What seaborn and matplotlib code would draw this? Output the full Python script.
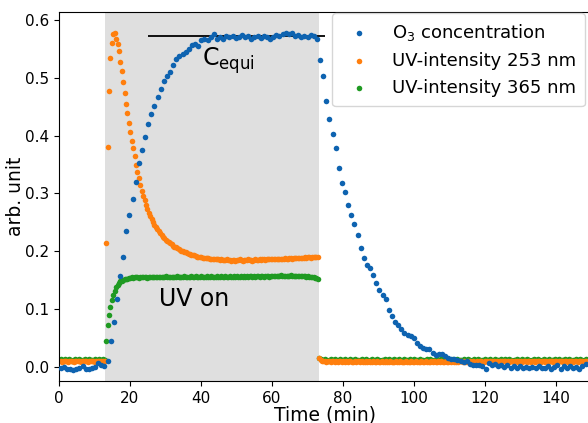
import numpy as np
import seaborn as sns
import matplotlib.pyplot as plt

# O3 concentration, one reading every 0.88 min starting at 0.5 min
o3_start, o3_step = 0.5, 0.88
o3_conc = [
    -0.002, 0.000, -0.003, -0.004, -0.006, -0.004, -0.001, 0.001, -0.004, -0.003,
    -0.002, 0.000, 0.007, 0.004, 0.002,
    0.010, 0.045, 0.078, 0.118, 0.158, 0.190, 0.236, 0.262, 0.290, 0.320,
    0.352, 0.376, 0.397, 0.420, 0.438, 0.452, 0.467, 0.480, 0.494, 0.504,
    0.510, 0.522, 0.533, 0.537, 0.541, 0.544, 0.550, 0.556, 0.558, 0.555,
    0.566, 0.568, 0.566, 0.570, 0.575, 0.568,
    0.571, 0.567, 0.572, 0.570, 0.573, 0.569, 0.571, 0.574, 0.570, 0.572,
    0.568, 0.571, 0.573, 0.569, 0.572, 0.570, 0.567, 0.571, 0.574, 0.572,
    0.576, 0.578, 0.575, 0.577, 0.572, 0.574, 0.570, 0.573, 0.571, 0.574,
    0.572, 0.568,
    0.530, 0.503, 0.460, 0.428, 0.403, 0.378, 0.344, 0.318, 0.302, 0.280,
    0.262, 0.247, 0.228, 0.205, 0.189, 0.177, 0.172, 0.159, 0.145, 0.134,
    0.125, 0.118, 0.099, 0.088, 0.078, 0.073, 0.066, 0.059, 0.056, 0.054,
    0.050, 0.042, 0.036, 0.033, 0.031, 0.031, 0.025, 0.021, 0.022, 0.023,
    0.019, 0.015, 0.014, 0.013, 0.012, 0.010, 0.008, 0.010, 0.006, 0.004,
    0.003, 0.004, 0.001,
    -0.004, 0.007, 0.003, 0.005, 0.002, 0.004, 0.000, 0.003, -0.001, 0.002,
    -0.002, 0.001, -0.001, 0.000, -0.002, 0.000, -0.002, 0.001, -0.001, -0.002,
    0.001, -0.003, 0.000, 0.004, -0.004, 0.002, -0.001, 0.001, -0.002, 0.000,
    -0.003, 0.002, 0.005,
]

# UV lamp intensities, one reading every 0.4 min starting at 0.1 min
uv_start, uv_step = 0.1, 0.4
uv_253 = [
    # lamp off
    0.010, 0.011, 0.009, 0.010, 0.010, 0.011, 0.009, 0.010, 0.011, 0.010,
    0.009, 0.010, 0.010, 0.011, 0.010, 0.009, 0.010, 0.011, 0.010, 0.010,
    0.009, 0.010, 0.011, 0.010, 0.010, 0.009, 0.011, 0.010, 0.010, 0.011,
    0.009, 0.010, 0.011,
    # lamp on
    0.215, 0.380, 0.478, 0.535, 0.561, 0.575, 0.577, 0.568, 0.558, 0.546,
    0.528, 0.512, 0.492, 0.473, 0.455, 0.439, 0.422, 0.406, 0.391, 0.378,
    0.364, 0.350, 0.337,
    0.326, 0.315, 0.305, 0.296, 0.288, 0.280, 0.273, 0.267, 0.261, 0.256,
    0.251, 0.246, 0.242, 0.238, 0.235, 0.231, 0.228, 0.225, 0.223, 0.220,
    0.218, 0.216, 0.214, 0.212, 0.210, 0.208, 0.207, 0.205, 0.204, 0.202,
    0.201, 0.200, 0.199, 0.198, 0.197, 0.196, 0.195, 0.194, 0.193, 0.193,
    0.192, 0.191, 0.191, 0.190, 0.190, 0.189, 0.189, 0.188, 0.188, 0.188,
    0.187, 0.187,
    0.187, 0.186, 0.186, 0.186, 0.186, 0.185, 0.186, 0.185, 0.185, 0.185,
    0.186, 0.185, 0.185,
    0.184, 0.185, 0.185, 0.184, 0.185, 0.185, 0.186, 0.185, 0.184, 0.185,
    0.185, 0.185, 0.186, 0.185, 0.185, 0.184, 0.185, 0.186, 0.185, 0.185,
    0.186, 0.185, 0.186, 0.186, 0.185, 0.186, 0.186, 0.187, 0.186, 0.186,
    0.186, 0.187, 0.186, 0.187, 0.187, 0.186, 0.187, 0.187, 0.188, 0.187,
    0.187, 0.188, 0.188, 0.187, 0.188, 0.188, 0.189, 0.188, 0.189, 0.189,
    0.188, 0.189, 0.190, 0.189, 0.190, 0.190, 0.189, 0.190, 0.190, 0.191,
    0.190, 0.190,
    # lamp off again
    0.015, 0.012, 0.011, 0.010, 0.010, 0.009, 0.010, 0.010, 0.009, 0.010,
    0.010, 0.009, 0.010, 0.009, 0.010, 0.010, 0.009, 0.010, 0.009, 0.010,
    0.009, 0.010, 0.010, 0.009, 0.009, 0.010, 0.009, 0.010, 0.010, 0.009,
    0.010, 0.009, 0.009, 0.010, 0.009, 0.010, 0.009, 0.009, 0.010, 0.009,
    0.009, 0.010, 0.009, 0.009, 0.010, 0.009, 0.009, 0.010, 0.009, 0.009,
    0.010, 0.009, 0.009, 0.009, 0.010, 0.009, 0.009, 0.010, 0.009, 0.009,
    0.009, 0.010, 0.009, 0.009, 0.009, 0.010, 0.009, 0.009, 0.010, 0.009,
    0.009, 0.009, 0.010, 0.009, 0.009, 0.010, 0.009, 0.009, 0.009, 0.010,
    0.009, 0.010, 0.009, 0.009, 0.010, 0.009, 0.010, 0.009, 0.009, 0.010,
    0.009, 0.009, 0.010, 0.009, 0.010, 0.009, 0.009, 0.010, 0.009, 0.010,
    0.010, 0.009, 0.010, 0.009, 0.009, 0.010, 0.010, 0.009, 0.010, 0.009,
    0.009, 0.010, 0.009, 0.010, 0.010, 0.009, 0.009, 0.010, 0.010, 0.009,
    0.010, 0.009, 0.010, 0.010, 0.009, 0.010, 0.009, 0.010, 0.009, 0.010,
    0.010, 0.010, 0.009, 0.010, 0.009, 0.010, 0.010, 0.009, 0.010, 0.010,
    0.009, 0.010, 0.010, 0.009, 0.010, 0.010, 0.009, 0.010, 0.010, 0.009,
    0.010, 0.010, 0.009, 0.010, 0.010, 0.010, 0.009, 0.010, 0.010, 0.009,
    0.010, 0.009, 0.010, 0.010, 0.010, 0.009, 0.010, 0.010, 0.009, 0.010,
    0.010, 0.010, 0.009, 0.010, 0.010, 0.009, 0.010, 0.010, 0.010, 0.009,
    0.010, 0.010, 0.009, 0.010, 0.010, 0.010, 0.009, 0.010, 0.010, 0.010,
]

uv_365 = [
    # lamp off
    0.012, 0.013, 0.012, 0.011, 0.013, 0.012, 0.012, 0.013, 0.012, 0.011,
    0.012, 0.013, 0.012, 0.012, 0.013, 0.012, 0.011, 0.012, 0.013, 0.012,
    0.012, 0.013, 0.012, 0.012, 0.011, 0.013, 0.012, 0.012, 0.013, 0.012,
    0.012, 0.013, 0.012,
    # lamp on
    0.045, 0.072, 0.090, 0.103, 0.115, 0.125, 0.132, 0.138, 0.142, 0.145,
    0.148, 0.149, 0.151, 0.152, 0.153, 0.153, 0.154, 0.154,
    0.155, 0.154, 0.155, 0.156, 0.155, 0.154, 0.155, 0.156, 0.155, 0.155,
    0.156, 0.154, 0.155, 0.156, 0.155, 0.156, 0.155, 0.155, 0.156, 0.155,
    0.156, 0.155, 0.155, 0.156, 0.157, 0.155, 0.156, 0.155, 0.156, 0.156,
    0.155, 0.156, 0.157, 0.155, 0.156, 0.156, 0.155, 0.157, 0.156, 0.155,
    0.156, 0.156, 0.157, 0.155, 0.156, 0.157, 0.156, 0.155, 0.156, 0.157,
    0.156, 0.156, 0.155, 0.157, 0.156, 0.156, 0.157, 0.156, 0.155, 0.156,
    0.157, 0.156, 0.156, 0.157, 0.155, 0.156, 0.157, 0.156, 0.156, 0.157,
    0.156, 0.155, 0.157, 0.156, 0.157, 0.156, 0.156, 0.157, 0.156, 0.157,
    0.156, 0.157, 0.156, 0.157, 0.157, 0.156, 0.157, 0.156, 0.158, 0.157,
    0.156, 0.157, 0.157, 0.156, 0.158, 0.157, 0.157, 0.156, 0.157, 0.158,
    0.157, 0.158, 0.157, 0.158, 0.157, 0.159, 0.158, 0.157, 0.158, 0.158,
    0.157, 0.158, 0.159, 0.158, 0.157, 0.158, 0.158, 0.157, 0.158, 0.157,
    0.157, 0.158, 0.157, 0.156, 0.157, 0.156, 0.156, 0.155, 0.155, 0.154,
    0.154, 0.153,
    # lamp off again
    0.016, 0.013, 0.012, 0.012, 0.013, 0.012, 0.011, 0.012, 0.013, 0.012,
    0.012, 0.013, 0.012, 0.011, 0.012, 0.013, 0.012, 0.012, 0.013, 0.012,
    0.011, 0.012, 0.013, 0.012, 0.012, 0.013, 0.012, 0.012, 0.011, 0.012,
    0.013, 0.012, 0.012, 0.013, 0.012, 0.011, 0.012, 0.013, 0.012, 0.012,
    0.012, 0.013, 0.012, 0.011, 0.012, 0.012, 0.013, 0.012, 0.012, 0.013,
    0.012, 0.012, 0.011, 0.013, 0.012, 0.012, 0.013, 0.012, 0.011, 0.012,
    0.013, 0.012, 0.012, 0.012, 0.013, 0.011, 0.012, 0.013, 0.012, 0.012,
    0.012, 0.013, 0.012, 0.012, 0.011, 0.012, 0.013, 0.012, 0.013, 0.012,
    0.011, 0.012, 0.012, 0.013, 0.012, 0.012, 0.013, 0.011, 0.012, 0.012,
    0.013, 0.012, 0.012, 0.011, 0.013, 0.012, 0.012, 0.013, 0.012, 0.012,
    0.012, 0.011, 0.013, 0.012, 0.012, 0.013, 0.012, 0.011, 0.012, 0.013,
    0.012, 0.012, 0.013, 0.012, 0.011, 0.012, 0.012, 0.013, 0.012, 0.012,
    0.013, 0.012, 0.011, 0.012, 0.013, 0.012, 0.012, 0.012, 0.013, 0.011,
    0.012, 0.013, 0.012, 0.012, 0.013, 0.012, 0.011, 0.012, 0.012, 0.013,
    0.012, 0.012, 0.011, 0.013, 0.012, 0.012, 0.013, 0.012, 0.012, 0.011,
    0.012, 0.013, 0.012, 0.012, 0.013, 0.012, 0.011, 0.012, 0.013, 0.012,
    0.012, 0.012, 0.013, 0.011, 0.012, 0.012, 0.013, 0.012, 0.012, 0.013,
    0.011, 0.012, 0.012, 0.013, 0.012, 0.012, 0.013, 0.012, 0.011, 0.012,
    0.012, 0.013, 0.012, 0.012, 0.013, 0.012, 0.011, 0.012, 0.013, 0.012,
]

uv_on, uv_off = 12.9, 73.2     # shaded "UV on" window (min)
c_equi = 0.572                  # equilibrium O3 level

series_labels = ['O$_3$ concentration', 'UV-intensity 253 nm', 'UV-intensity 365 nm']
series_colors = ['#0e63b0', '#ff7f0e', '#1f9a22']

t_o3 = o3_start + o3_step * np.arange(len(o3_conc))
t_uv = uv_start + uv_step * np.arange(len(uv_253))

fig = plt.figure(figsize=(5.88, 4.23), dpi=100)
ax = fig.add_axes([0.1003, 0.0993, 0.9056, 0.8723])

ax.axvspan(uv_on, uv_off, color='gray', alpha=0.25, lw=0, zorder=0)
ax.hlines(c_equi, 25, 75, color='black', lw=1.3, zorder=2.5)

sns.scatterplot(x=t_o3, y=o3_conc, ax=ax, s=16, linewidth=0,
                color=series_colors[0], label=series_labels[0], zorder=3)
sns.scatterplot(x=t_uv, y=uv_253, ax=ax, s=16, linewidth=0,
                color=series_colors[1], label=series_labels[1], zorder=2)
sns.scatterplot(x=t_uv, y=uv_365, ax=ax, s=16, linewidth=0,
                color=series_colors[2], label=series_labels[2], zorder=1.9)

ax.text(40.2, 0.521, r'C$_{\rm equi}$', fontsize=17)
ax.text(28.1, 0.105, 'UV on', fontsize=17)

ax.set_xlim(0, 150)
ax.set_ylim(-0.0242, 0.6138)
ax.set_xticks(np.arange(0, 160, 20))
ax.set_yticks(np.arange(0, 0.7, 0.1))
ax.tick_params(labelsize=11)
ax.set_xlabel('Time (min)', fontsize=13.5, labelpad=-0.5)
ax.set_ylabel('arb. unit', fontsize=13.5, labelpad=0)
ax.legend(loc='upper right', fontsize=13, borderaxespad=0, borderpad=0.5,
          bbox_to_anchor=(585 / 588, 1 - 13 / 423), bbox_transform=fig.transFigure)

plt.savefig('out.png', dpi=100)
